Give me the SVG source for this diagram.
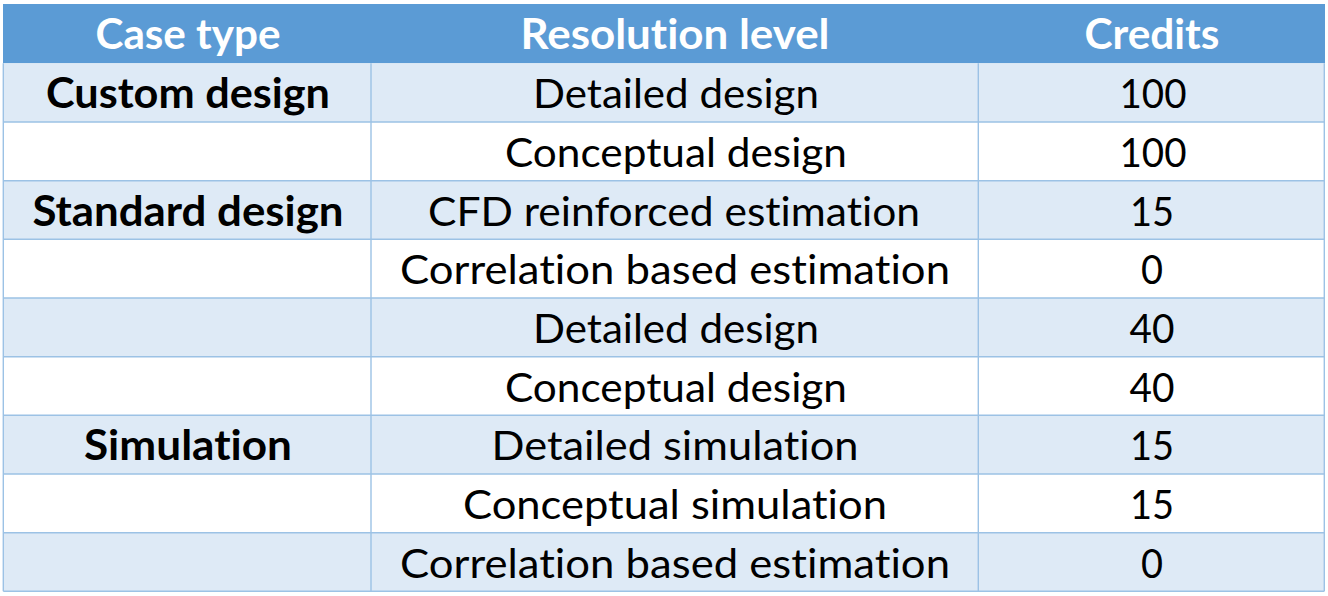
<svg xmlns="http://www.w3.org/2000/svg" width="1328" height="596" viewBox="0 0 1328 596">
<style>
text{font-family:Lato,"Open Sans","Liberation Sans",sans-serif;font-size:41.5px;text-anchor:middle;fill:#000;font-variant-ligatures:none;font-feature-settings:"liga" 0}
.h{fill:#fff;font-weight:bold}
.b{font-weight:bold}
.band{fill:#DEEAF6}
.grid{stroke:#9CC2E5;stroke-width:1.4;fill:none}
</style>
<rect width="1328" height="596" fill="#fff"/>
<g id="header">
<rect x="3" y="4" width="1322" height="59.3" fill="#5B9BD5"/>
<text class="h" x="188" y="49" textLength="185" lengthAdjust="spacingAndGlyphs">Case type</text>
<text class="h" x="675" y="49" textLength="309" lengthAdjust="spacingAndGlyphs">Resolution level</text>
<text class="h" x="1152" y="49" textLength="135" lengthAdjust="spacingAndGlyphs">Credits</text>
</g>
<g id="bands">
<rect class="band" x="3.3" y="63.3" width="1321" height="58.7"/>
<rect class="band" x="3.3" y="180.7" width="1321" height="58.6"/>
<rect class="band" x="3.3" y="298" width="1321" height="58.7"/>
<rect class="band" x="3.3" y="415.3" width="1321" height="58.7"/>
<rect class="band" x="3.3" y="532.7" width="1321" height="58.6"/>
</g>
<g id="grid" class="grid">
<path d="M3.3 63.3V591.3M371 63.3V591.3M978.3 63.3V591.3M1324.3 63.3V591.3"/>
<path d="M3.3 122H1324.3M3.3 180.7H1324.3M3.3 239.3H1324.3M3.3 298H1324.3M3.3 356.7H1324.3M3.3 415.3H1324.3M3.3 474H1324.3M3.3 532.7H1324.3M3.3 591.3H1324.3"/>
</g>
<g id="row1"><text class="b" x="188" y="108.3" textLength="284" lengthAdjust="spacingAndGlyphs">Custom design</text><text x="676" y="108.3" textLength="286" lengthAdjust="spacingAndGlyphs">Detailed design</text><text x="1153" y="108.3" textLength="67" lengthAdjust="spacingAndGlyphs">100</text></g>
<g id="row2"><text x="676" y="167" textLength="342" lengthAdjust="spacingAndGlyphs">Conceptual design</text><text x="1153" y="167" textLength="67" lengthAdjust="spacingAndGlyphs">100</text></g>
<g id="row3"><text class="b" x="188" y="225.7" textLength="311" lengthAdjust="spacingAndGlyphs">Standard design</text><text x="674" y="225.7" textLength="492" lengthAdjust="spacingAndGlyphs">CFD reinforced estimation</text><text x="1152" y="225.7" textLength="44" lengthAdjust="spacingAndGlyphs">15</text></g>
<g id="row4"><text x="675" y="284.3" textLength="550" lengthAdjust="spacingAndGlyphs">Correlation based estimation</text><text x="1152" y="284.3" textLength="22" lengthAdjust="spacingAndGlyphs">0</text></g>
<g id="row5"><text x="676" y="343" textLength="286" lengthAdjust="spacingAndGlyphs">Detailed design</text><text x="1152" y="343" textLength="45" lengthAdjust="spacingAndGlyphs">40</text></g>
<g id="row6"><text x="676" y="401.7" textLength="342" lengthAdjust="spacingAndGlyphs">Conceptual design</text><text x="1152" y="401.7" textLength="45" lengthAdjust="spacingAndGlyphs">40</text></g>
<g id="row7"><text class="b" x="188" y="460.3" textLength="208" lengthAdjust="spacingAndGlyphs">Simulation</text><text x="675" y="460.3" textLength="367" lengthAdjust="spacingAndGlyphs">Detailed simulation</text><text x="1152" y="460.3" textLength="44" lengthAdjust="spacingAndGlyphs">15</text></g>
<g id="row8"><text x="675" y="519" textLength="424" lengthAdjust="spacingAndGlyphs">Conceptual simulation</text><text x="1152" y="519" textLength="44" lengthAdjust="spacingAndGlyphs">15</text></g>
<g id="row9"><text x="675" y="577.7" textLength="550" lengthAdjust="spacingAndGlyphs">Correlation based estimation</text><text x="1152" y="577.7" textLength="22" lengthAdjust="spacingAndGlyphs">0</text></g>
</svg>
